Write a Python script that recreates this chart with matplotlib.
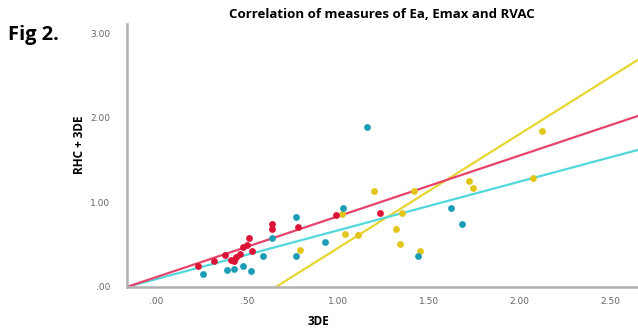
import numpy as np
import matplotlib.pyplot as plt

# values (x = 3DE, y = RHC + 3DE)
red_x = [0.23, 0.32, 0.38, 0.41, 0.43, 0.44, 0.46, 0.48, 0.50, 0.51, 0.53,
         0.64, 0.64, 0.78, 0.99, 1.23]
red_y = [0.25, 0.31, 0.38, 0.32, 0.31, 0.35, 0.39, 0.47, 0.50, 0.58, 0.43,
         0.75, 0.69, 0.71, 0.85, 0.87]

teal_x = [0.26, 0.39, 0.43, 0.48, 0.52, 0.59, 0.64, 0.77, 0.77, 0.93, 1.03,
          1.16, 1.44, 1.62, 1.68]
teal_y = [0.15, 0.20, 0.21, 0.25, 0.19, 0.36, 0.58, 0.83, 0.37, 0.53, 0.93,
          1.89, 0.37, 0.93, 0.75]

yellow_x = [0.79, 1.02, 1.04, 1.11, 1.20, 1.32, 1.34, 1.35, 1.42, 1.45,
            1.72, 1.74, 2.07, 2.12]
yellow_y = [0.44, 0.86, 0.63, 0.62, 1.13, 0.68, 0.51, 0.87, 1.14, 0.43,
            1.25, 1.17, 1.29, 1.85]

# fit lines: (intercept, slope)
red_fit = (0.115, 0.72)
teal_fit = (0.092, 0.577)
yellow_fit = (-0.89, 1.35)

x_ticks = [0.0, 0.5, 1.0, 1.5, 2.0, 2.5]
y_ticks = [0.0, 1.0, 2.0, 3.0]

XMIN, XMAX = -0.16, 2.65
YMIN, YMAX = 0.0, 3.11


def fmt(v):
    s = "%.2f" % v
    return s[1:] if s.startswith("0") else s


fig = plt.figure(figsize=(6.38, 3.34), dpi=100)
ax = fig.add_axes([0.199, 0.141, 0.801, 0.787])

xs = np.linspace(XMIN, XMAX, 200)
for (b, m), c in [(yellow_fit, "#e6d630"), (teal_fit, "#52d8dc"),
                  (red_fit, "#e5436a")]:
    ax.plot(xs, b + m * xs, color=c, lw=1.6, zorder=2)

ax.scatter(yellow_x, yellow_y, s=24, color="#e3c419", zorder=3, lw=0)
ax.scatter(teal_x, teal_y, s=24, color="#1c9db6", zorder=3, lw=0)
ax.scatter(red_x, red_y, s=24, color="#dc1237", zorder=4, lw=0)

ax.set_xlim(XMIN, XMAX)
ax.set_ylim(YMIN, YMAX)
ax.set_xticks(x_ticks)
ax.set_xticklabels([fmt(v) for v in x_ticks])
ax.set_yticks(y_ticks)
ax.set_yticklabels([fmt(v) for v in y_ticks])
ax.tick_params(axis="x", length=0, labelsize=6.5, labelcolor="#666666", pad=7)
ax.tick_params(axis="y", length=0, labelsize=6.5, labelcolor="#666666", pad=12)

for s in ["top", "right"]:
    ax.spines[s].set_visible(False)
for s in ["left", "bottom"]:
    ax.spines[s].set_color("#b0b0b0")
    ax.spines[s].set_linewidth(1.8)

ax.set_xlabel("3DE", fontsize=8.5, fontweight="bold", family="Open Sans")
ax.xaxis.set_label_coords(0.374, -0.105)
ax.set_ylabel("RHC + 3DE", fontsize=8.5, fontweight="bold", family="Open Sans")
ax.yaxis.set_label_coords(-0.08, 0.54)

fig.text(0.598, 0.958, "Correlation of measures of Ea, Emax and RVAC",
         ha="center", va="center", fontsize=9.5, fontweight="bold",
         family="Open Sans")
fig.text(0.012, 0.895, "Fig 2.", ha="left", va="center", fontsize=14.5,
         fontweight="bold", family="Open Sans")

fig.savefig("out.png", dpi=100, facecolor="white")
